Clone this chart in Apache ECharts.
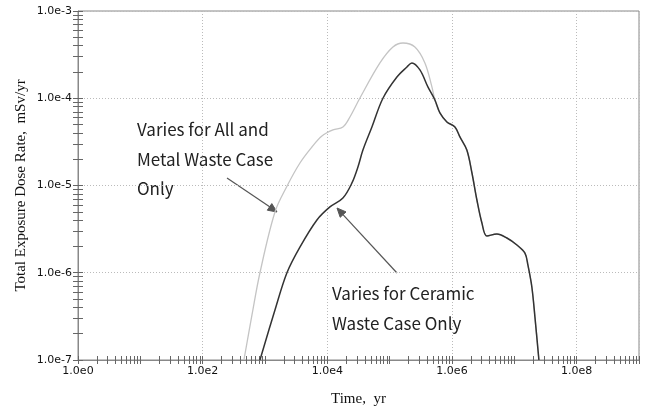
<!DOCTYPE html>
<html>
<head>
<meta charset="utf-8">
<script src="https://cdn.jsdelivr.net/npm/echarts@6/dist/echarts.min.js"></script>
<style>html,body{margin:0;padding:0;background:#fff;}#c{width:647px;height:409px;}</style>
</head>
<body>
<div id="c"></div>
<script>
// Time (yr) and dose rate (mSv/yr)
const metalTime = [459, 618, 830, 1445, 2250, 3636, 5660, 8190, 12300, 17780, 23030, 33340, 69800, 112800, 163300, 254000, 367600, 476000];
const metalDose = [1.0e-7, 3.28e-7, 1.0e-6, 4.97e-6, 9.8e-6, 1.81e-5, 2.76e-5, 3.69e-5, 4.33e-5, 4.68e-5, 6.1e-5, 1.007e-4, 2.54e-4, 3.87e-4, 4.30e-4, 3.87e-4, 2.54e-4, 1.35e-4];

const ceramicTime = [830, 1445, 2250, 3636, 6810, 11010, 17780, 24830, 30970, 37240, 51900, 78000, 130700, 189200, 227500, 305700, 410400];
const ceramicDose = [1.0e-7, 3.74e-7, 1.0e-6, 1.97e-6, 4.03e-6, 5.68e-6, 7.19e-6, 1.07e-5, 1.63e-5, 2.55e-5, 4.68e-5, 1.0e-4, 1.75e-4, 2.28e-4, 2.54e-4, 2.11e-4, 1.35e-4];

// shared tail of both curves
const tailTime = [532000, 640000, 828000, 1114000, 1340000, 1730000, 2090000, 2510000, 3020000, 3630000, 5250000, 7600000, 1.1e7, 1.48e7, 1.65e7, 1.91e7, 2.14e7, 2.48e7];
const tailDose = [9.55e-5, 6.78e-5, 5.35e-5, 4.68e-5, 3.6e-5, 2.55e-5, 1.39e-5, 6.82e-6, 3.72e-6, 2.64e-6, 2.78e-6, 2.50e-6, 2.08e-6, 1.68e-6, 1.23e-6, 6.87e-7, 3.11e-7, 1.0e-7];

const xLabelValues = [1, 1e2, 1e4, 1e6, 1e8];
const yLabelValues = [1e-7, 1e-6, 1e-5, 1e-4, 1e-3];
const xTitle = 'Time,  yr';
const yTitle = 'Total Exposure Dose Rate,  mSv/yr';
const note1 = ['Varies for All and', 'Metal Waste Case', 'Only'];
const note2 = ['Varies for Ceramic', 'Waste Case Only'];

function pairs(t, d) { return t.map((v, i) => [v, d[i]]); }
function minorValues(lo, hi) {
  const out = [];
  for (let e = lo; e < hi; e++) for (let m = 1; m <= 9; m++) out.push(m * Math.pow(10, e));
  out.push(Math.pow(10, hi));
  return out;
}
function fmt(v) { return Number(v).toExponential(1).replace('+', ''); }

const xMinor = minorValues(0, 9);
const yMinor = minorValues(-7, -3);

const labelFont = { fontFamily: 'DejaVu Sans', fontSize: 11, color: '#111' };
const titleFont = { fontFamily: 'Liberation Serif', fontSize: 15, color: '#111' };

function tickAxisX(inside) {
  return { type: 'log', logBase: 10, min: 1, max: 1e9, position: 'bottom', gridIndex: 0,
    axisLine: { show: false }, axisLabel: { show: false }, splitLine: { show: false },
    axisTick: { show: true, inside: inside, length: 4, customValues: xMinor, lineStyle: { color: '#666', width: 1 } } };
}
function tickAxisY(inside) {
  return { type: 'log', logBase: 10, min: 1e-7, max: 1e-3, position: 'left', gridIndex: 0,
    axisLine: { show: false }, axisLabel: { show: false }, splitLine: { show: false },
    axisTick: { show: true, inside: inside, length: 5, customValues: yMinor, lineStyle: { color: '#666', width: 1 } } };
}

const chart = echarts.init(document.getElementById('c'), null, { renderer: 'canvas' });
chart.setOption({
  animation: false,
  backgroundColor: '#fff',
  grid: { left: 78, right: 8, top: 11, bottom: 49, show: true, borderColor: '#888', borderWidth: 1,
    containLabel: false, outerBoundsMode: 'none' },
  xAxis: [
    { type: 'log', logBase: 10, min: 1, max: 1e9, interval: 2, position: 'bottom',
      name: xTitle, nameLocation: 'middle', nameGap: 32, nameTextStyle: titleFont, nameMoveOverlap: false,
      axisLine: { show: true, lineStyle: { color: '#888' } }, axisTick: { show: false },
      axisLabel: { ...labelFont, margin: 6, showMaxLabel: false,
        formatter: v => (xLabelValues.some(x => Math.abs(Math.log10(x) - Math.log10(v)) < 1e-6) ? fmt(v) : '') },
      splitLine: { show: true, lineStyle: { color: '#bbb', type: [1, 2], width: 1 } } },
    tickAxisX(true), tickAxisX(false)
  ],
  yAxis: [
    { type: 'log', logBase: 10, min: 1e-7, max: 1e-3, interval: 1, position: 'left',
      name: yTitle, nameLocation: 'middle', nameGap: 49, nameRotate: 90, nameTextStyle: titleFont, nameMoveOverlap: false,
      axisLine: { show: true, lineStyle: { color: '#888' } }, axisTick: { show: false },
      axisLabel: { ...labelFont, margin: 6,
        formatter: v => (yLabelValues.some(x => Math.abs(Math.log10(x) - Math.log10(v)) < 1e-6) ? fmt(v) : '') },
      splitLine: { show: true, lineStyle: { color: '#bbb', type: [1, 2], width: 1 } } },
    tickAxisY(true), tickAxisY(false)
  ],
  series: [
    { type: 'line', name: 'All and Metal', xAxisIndex: 0, yAxisIndex: 0, data: pairs(metalTime.concat(tailTime), metalDose.concat(tailDose)),
      showSymbol: false, symbol: 'none', smooth: 0.35, lineStyle: { color: '#c4c4c4', width: 1.3 }, z: 2 },
    { type: 'line', name: 'Ceramic', xAxisIndex: 0, yAxisIndex: 0, data: pairs(ceramicTime.concat(tailTime), ceramicDose.concat(tailDose)),
      showSymbol: false, symbol: 'none', smooth: 0.35, lineStyle: { color: '#333', width: 1.5 }, z: 3 }
  ],
  graphic: [
    { type: 'text', left: 137, top: 115, style: { text: note1.join('\n'), font: '17px "Noto Sans CJK KR"', lineHeight: 29.5, fill: '#222' } },
    { type: 'text', left: 332, top: 279, style: { text: note2.join('\n'), font: '17px "Noto Sans CJK KR"', lineHeight: 30, fill: '#222' } },
    { type: 'polyline', shape: { points: [[227, 178], [270, 207]] }, style: { stroke: '#555', lineWidth: 1.2, fill: null } },
    { type: 'polygon', shape: { points: [[277, 212], [267.3, 210.2], [271.8, 203.6]] }, style: { fill: '#555', stroke: '#555' } },
    { type: 'polyline', shape: { points: [[397, 273], [343, 214.6]] }, style: { stroke: '#555', lineWidth: 1.2, fill: null } },
    { type: 'polygon', shape: { points: [[337, 208], [346.0, 211.9], [340.2, 217.3]] }, style: { fill: '#555', stroke: '#555' } }
  ]
});
</script>
</body>
</html>
